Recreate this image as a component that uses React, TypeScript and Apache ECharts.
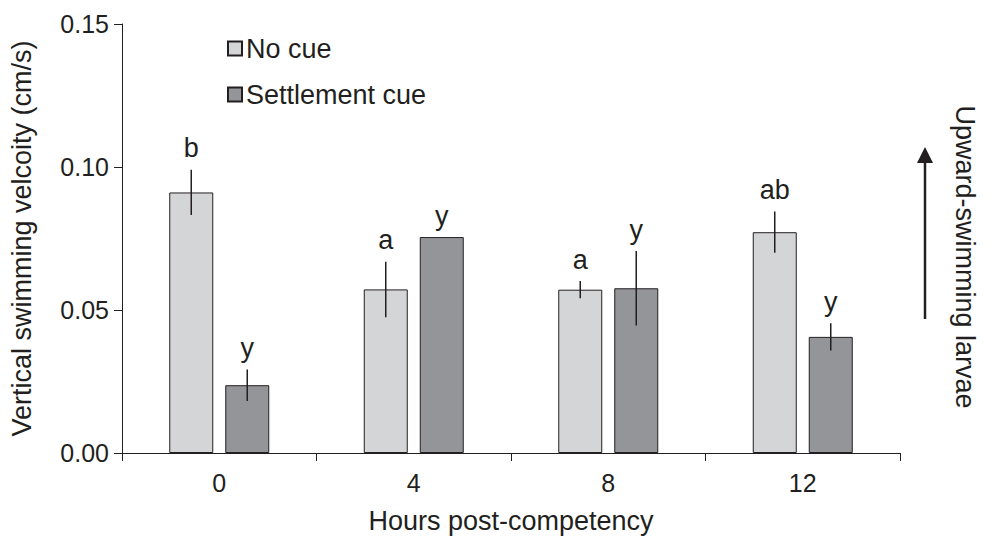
import React, { useEffect, useRef } from "react";
import * as echarts from "echarts";

const categories = ["0", "4", "8", "12"];
const noCue = [0.0911, 0.0572, 0.0571, 0.0772];
const settlementCue = [0.0237, 0.0755, 0.0576, 0.0406];
const noCueErr = [0.0079, 0.0097, 0.003, 0.0072];
const settlementErr = [0.0055, 0.0, 0.013, 0.0048];
const noCueLetters = ["b", "a", "a", "ab"];
const settlementLetters = ["y", "y", "y", "y"];
const yTicks = [0, 0.05, 0.1, 0.15];

const FONT = "'Liberation Sans', Arial, Helvetica, sans-serif";
const INK = "#231f20";
const LIGHT = "#d4d5d7";
const DARK = "#939598";
const BAR_W = 44;
const BAR_GAP_PX = 12;
const TITLE_SIZE = 27;
const TICK_SIZE = 25;

function errorSeries(name: string, values: number[], errs: number[], letters: string[], offset: number) {
  return {
    type: "custom",
    name: name + "-err",
    clip: false,
    z: 5,
    silent: true,
    data: values.map((v, i) => [i, v, errs[i]]),
    encode: { x: 0, y: 1 },
    renderItem: (params: any, api: any) => {
      const i = api.value(0);
      const v = api.value(1);
      const e = api.value(2);
      const top = api.coord([i, v + e]);
      const bot = api.coord([i, v - e]);
      const x = top[0] + offset;
      const children: any[] = [];
      if (e > 0) {
        children.push({
          type: "line",
          shape: { x1: x, y1: top[1], x2: x, y2: bot[1] },
          style: { stroke: INK, lineWidth: 1.5 },
        });
      }
      children.push({
        type: "text",
        style: {
          text: letters[params.dataIndex],
          x,
          y: top[1] - 8,
          align: "center",
          verticalAlign: "bottom",
          textAlign: "center",
          textVerticalAlign: "bottom",
          fontSize: TITLE_SIZE,
          fontFamily: FONT,
          fill: INK,
        },
      });
      return { type: "group", children };
    },
  };
}

export default function App() {
  const ref = useRef<HTMLDivElement>(null);
  useEffect(() => {
    if (!ref.current) return;
    const chart = echarts.init(ref.current, undefined, { renderer: "svg" });
    const offset = BAR_W / 2 + BAR_GAP_PX / 2;
    chart.setOption({
      animation: false,
      textStyle: { fontFamily: FONT, color: INK },
      grid: { left: 116, right: 93, top: 24, bottom: 88, containLabel: false },
      legend: {
        orient: "vertical",
        left: 222,
        top: 30,
        itemWidth: 14,
        itemHeight: 14,
        itemGap: 19,
        icon: "rect",
        data: ["No cue", "Settlement cue"],
        textStyle: { fontSize: TITLE_SIZE, color: INK, fontFamily: FONT, padding: [0, 0, 0, -1] },
      },
      xAxis: {
        type: "category",
        data: categories,
        boundaryGap: true,
        name: "Hours post-competency",
        nameLocation: "middle",
        nameGap: 54,
        nameTextStyle: { fontSize: TITLE_SIZE, color: INK, fontFamily: FONT },
        axisLine: { lineStyle: { color: INK, width: 1 } },
        axisTick: { show: true, inside: false, length: 8, lineStyle: { color: INK } },
        axisLabel: { fontSize: TICK_SIZE, color: INK, margin: 17, fontFamily: FONT },
        splitLine: { show: false },
      },
      yAxis: {
        type: "value",
        min: 0,
        max: 0.15,
        interval: 0.05,
        name: "Vertical swimming velcoity (cm/s)",
        nameLocation: "middle",
        nameGap: 87,
        nameTextStyle: { fontSize: TITLE_SIZE, color: INK, fontFamily: FONT },
        axisLine: { show: true, lineStyle: { color: INK, width: 1 } },
        axisTick: { show: true, inside: false, length: 8, lineStyle: { color: INK } },
        axisLabel: {
          fontSize: TICK_SIZE,
          color: INK,
          margin: 13,
          fontFamily: FONT,
          formatter: (v: number) => (yTicks.some((t) => Math.abs(t - v) < 1e-9) ? v.toFixed(2) : ""),
        },
        splitLine: { show: false },
      },
      series: [
        {
          type: "bar",
          name: "No cue",
          data: noCue,
          barWidth: BAR_W,
          barGap: (BAR_GAP_PX / BAR_W) * 100 + "%",
          itemStyle: { color: LIGHT, borderColor: INK, borderWidth: 1 },
        },
        {
          type: "bar",
          name: "Settlement cue",
          data: settlementCue,
          barWidth: BAR_W,
          barGap: (BAR_GAP_PX / BAR_W) * 100 + "%",
          itemStyle: { color: DARK, borderColor: INK, borderWidth: 1 },
        },
        errorSeries("No cue", noCue, noCueErr, noCueLetters, -offset),
        errorSeries("Settlement cue", settlementCue, settlementErr, settlementLetters, offset),
      ],
      graphic: [
        {
          type: "line",
          shape: { x1: 925, y1: 319, x2: 925, y2: 160 },
          style: { stroke: INK, lineWidth: 2.5 },
        },
        {
          type: "polygon",
          shape: { points: [[917, 163], [933, 163], [925, 147]] },
          style: { fill: INK },
        },
        {
          type: "text",
          x: 965,
          y: 257,
          rotation: -Math.PI / 2,
          style: {
            text: "Upward-swimming larvae",
            fontSize: TITLE_SIZE,
            fontFamily: FONT,
            fill: INK,
            align: "center",
            verticalAlign: "middle",
          },
        },
      ],
    });
    return () => chart.dispose();
  }, []);
  return <div ref={ref} style={{ width: 993, height: 541, position: "absolute", left: 0, top: 0 }} />;
}
